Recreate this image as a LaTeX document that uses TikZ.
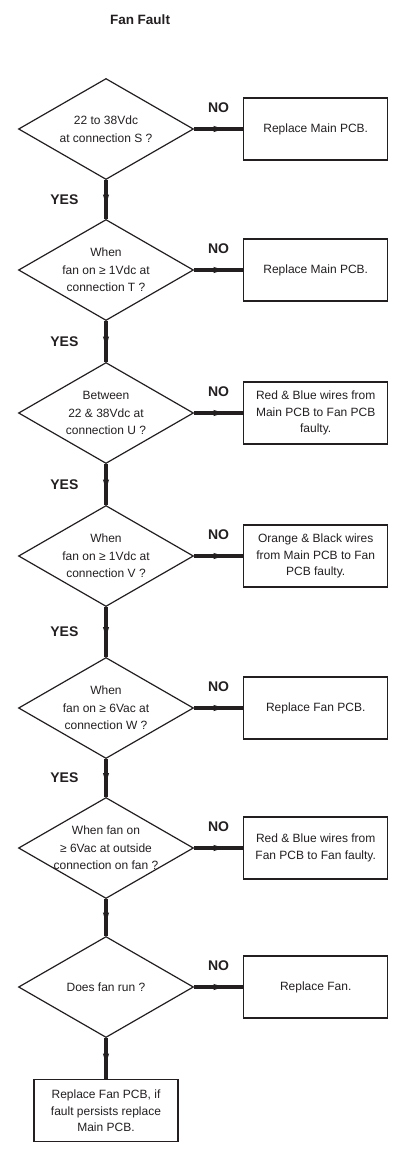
\documentclass[tikz,border=0pt]{standalone}
\usepackage{fontspec}
\setmainfont{Liberation Sans}
\usetikzlibrary{decorations.markings}
\usetikzlibrary{positioning}
\usetikzlibrary{shapes.geometric}
\definecolor{ink}{HTML}{231F20}
\tikzset{
  % style to add an arrow in the middle of a connector
  mid arrow/.style={
    postaction={
      decorate,
      decoration={
        markings,
        mark=at position #1 with {
          \fill[ink] (5pt,0)--(-5pt,3.1pt)--(-5pt,-3.1pt)--cycle;
        }
      }
    }
  }
}
\tikzset {
  flow path/.style = {
    draw = ink,
    line width = 3.3pt
  },
  % connector with an arrow in its middle
  arr/.style = {
    flow path,
    mid arrow = 0.5
  }
}
\tikzset {
  chart node/.style = {
    draw = ink,
    line width = 1.2pt,
    inner sep = 0pt,
    text = ink,
    align = center,
    font = \fontsize{12}{16.3}\selectfont
  },
  % question
  decision/.style = {
    chart node,
    diamond,
    minimum width = 175pt,
    minimum height = 101pt
  },
  % text of a question
  qtext/.style = {
    inner sep = 0pt,
    text = ink,
    align = center,
    font = \fontsize{12}{17.5}\selectfont
  },
  % what to do
  action/.style = {
    chart node,
    rectangle,
    minimum width = 144pt,
    minimum height = 62pt
  },
  % YES / NO
  answer/.style = {
    inner sep = 0pt,
    text = ink,
    font = \bfseries\fontsize{14}{16}\selectfont
  },
  node distance = 49pt
}

\begin{document}
\begin{tikzpicture}[x=1pt, y=-1pt]
  \useasboundingbox (0,0) rectangle (409,1168);

  \node[answer, font=\bfseries\fontsize{13.5}{16}\selectfont] (title) at (140,20) {Fan Fault};

  \node[decision, label={[qtext]center:{22 to 38Vdc\\at connection S ?}}] (qS) at (106,129) {};
  \node[action] (aS) [right=of qS] {Replace Main PCB.};

  \node[decision, label={[qtext]center:{When\\fan on ≥ 1Vdc at\\connection T ?}}] (qT) at (106,270) {};
  \node[action] (aT) [right=of qT] {Replace Main PCB.};

  \node[decision, label={[qtext]center:{Between\\22 \& 38Vdc at\\connection U ?}}] (qU) at (106,413) {};
  \node[action] (aU) [right=of qU] {Red \& Blue wires from\\Main PCB to Fan PCB\\faulty.};

  \node[decision, label={[qtext]center:{When\\fan on ≥ 1Vdc at\\connection V ?}}] (qV) at (106,556) {};
  \node[action] (aV) [right=of qV] {Orange \& Black wires\\from Main PCB to Fan\\PCB faulty.};

  \node[decision, label={[qtext]center:{When\\fan on ≥ 6Vac at\\connection W ?}}] (qW) at (106,708) {};
  \node[action] (aW) [right=of qW] {Replace Fan PCB.};

  \node[decision, label={[qtext]center:{When fan on\\≥ 6Vac at outside\\connection on fan ?}}] (qO) at (106,848) {};
  \node[action] (aO) [right=of qO] {Red \& Blue wires from\\Fan PCB to Fan faulty.};

  \node[decision, label={[qtext]center:{Does fan run ?}}] (qR) at (106,987) {};
  \node[action] (aR) [right=of qR] {Replace Fan.};

  \node[action] (fix) [below=41pt of qR] {Replace Fan PCB, if\\fault persists replace\\Main PCB.};

  \draw[arr] (qS) -- node[answer, midway, above=15pt] {NO} (aS);
  \draw[arr] (qT) -- node[answer, midway, above=15pt] {NO} (aT);
  \draw[arr] (qU) -- node[answer, midway, above=15pt] {NO} (aU);
  \draw[arr] (qV) -- node[answer, midway, above=15pt] {NO} (aV);
  \draw[arr] (qW) -- node[answer, midway, above=15pt] {NO} (aW);
  \draw[arr] (qO) -- node[answer, midway, above=15pt] {NO} (aO);
  \draw[arr] (qR) -- node[answer, midway, above=15pt] {NO} (aR);

  \draw[arr] (qS) -- node[answer, midway, left=26pt] {YES} (qT);
  \draw[arr] (qT) -- node[answer, midway, left=26pt] {YES} (qU);
  \draw[arr] (qU) -- node[answer, midway, left=26pt] {YES} (qV);
  \draw[arr] (qV) -- node[answer, midway, left=26pt] {YES} (qW);
  \draw[arr] (qW) -- node[answer, midway, left=26pt] {YES} (qO);
  \draw[arr] (qO) -- (qR);
  \draw[arr] (qR) -- (fix);
\end{tikzpicture}
\end{document}
